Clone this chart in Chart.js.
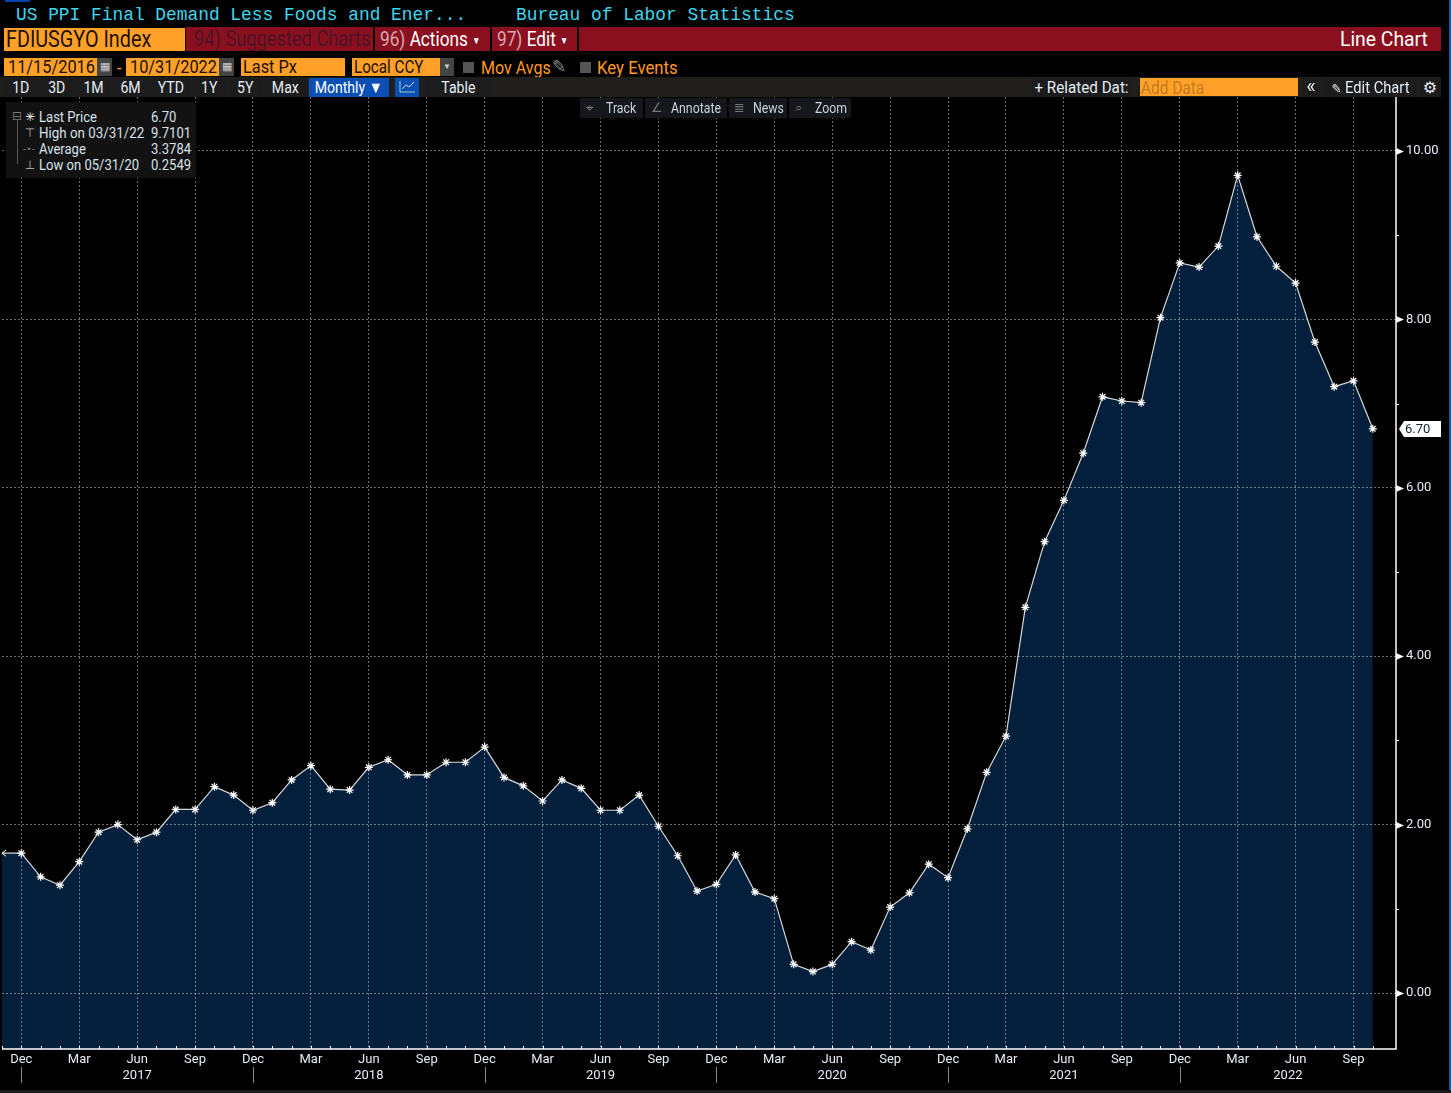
<!DOCTYPE html>
<html>
<head>
<meta charset="utf-8">
<script src="https://cdn.jsdelivr.net/npm/chart.js@4"></script>
<style>
html, body { margin:0; padding:0; background:#000; width:1451px; height:1093px; overflow:hidden; }
body { position:relative; font-family:Roboto,sans-serif; }
#wrap { position:absolute; left:0; top:97px; width:1451px; height:996px; }
.a { position:absolute; white-space:nowrap; }
.n { display:inline-block; transform:scaleX(.86); transform-origin:0 50%; }
.c { display:inline-block; transform:scaleX(.88); transform-origin:50% 50%; }
.title { font:19px "Liberation Mono",monospace; color:#3fd6ee; top:4px; transform:scaleX(.94); transform-origin:0 50%; }
.orange { background:#ffa028; color:#201000; }
.red { background:#8a1020; }
.btn { background:#1c1c1c; color:#e6edf5; top:78px; height:19px; line-height:19px; text-align:center; font-size:16px; }
.tool { background:#15171a; top:98px; height:20px; }
.toolt { color:#c8d4e0; top:98px; height:20px; line-height:20px; font-size:14px; transform:scaleX(.88); transform-origin:0 50%; }
.toolg { color:#777; top:98px; height:20px; line-height:20px; font:13px/20px "DejaVu Sans"; }
.leg { color:#d8e2ec; font-size:15px; line-height:16px; transform:scaleX(.87); transform-origin:0 50%; }
.mk { color:#bbb; font:12px/16px "DejaVu Sans"; width:12px; text-align:center; }
.cal { background:#444; color:#ccc; top:58px; height:18px; line-height:18px; text-align:center; font-size:11px; }
.chk { background:#555; width:11px; height:11px; top:62px; }
.ora { color:#ff9a1e; font-size:18px; top:57px; transform:scaleX(.89); transform-origin:0 50%; }
.fld { top:58px; height:18px; line-height:18px; font-size:19px; }
.bar { top:27px; height:24px; line-height:24px; font-size:21px; color:#fff; transform:scaleX(.82); transform-origin:0 50%; }
.sep { top:27px; width:2px; height:24px; background:#000; }
</style>
</head>
<body>
<div id="wrap"><canvas id="chart" width="1451" height="996"></canvas></div>

<div class="a" style="left:5px;top:0;width:25px;height:2px;background:#0a3ea8"></div>
<div class="a" style="left:1449px;top:0;width:2px;height:1090px;background:#0f5f9a"></div>
<div class="a" style="left:0;top:1090px;width:1451px;height:3px;background:#1c1c1c"></div>

<div class="a title" style="left:16px">US PPI Final Demand Less Foods and Ener...</div>
<div class="a title" style="left:516px">Bureau of Labor Statistics</div>

<div class="a red" style="left:186px;top:27px;width:1255px;height:24px"></div>
<div class="a orange" style="left:4px;top:28px;width:181px;height:23px;line-height:24px;font-size:23px"><span class="n" style="margin-left:2px">FDIUSGYO Index</span></div>
<div class="a bar" style="left:194px;font-size:22px;color:#4e1426;transform:scaleX(.83)">94) Suggested Charts</div>
<div class="a sep" style="left:373px"></div>
<div class="a bar" style="left:380px"><span style="color:#d8a8b0">96)</span> Actions <span style="font-size:10px;vertical-align:2px">▼</span></div>
<div class="a sep" style="left:490px"></div>
<div class="a bar" style="left:497px"><span style="color:#d8a8b0">97)</span> Edit <span style="font-size:10px;vertical-align:2px">▼</span></div>
<div class="a sep" style="left:577px"></div>
<div class="a bar" style="left:1340px;transform:scaleX(.92)">Line Chart</div>

<div class="a orange fld" style="left:4px;width:93px"><span class="n" style="margin-left:4px">11/15/2016</span></div>
<div class="a cal" style="left:97px;width:15px">▦</div>
<div class="a ora" style="left:117px">-</div>
<div class="a orange fld" style="left:126px;width:93px"><span class="n" style="margin-left:4px">10/31/2022</span></div>
<div class="a cal" style="left:219px;width:15px">▦</div>
<div class="a orange fld" style="left:241px;width:104px"><span class="n" style="margin-left:2px">Last Px</span></div>
<div class="a orange fld" style="left:352px;width:88px"><span class="n" style="margin-left:2px;transform:scaleX(.8)">Local CCY</span></div>
<div class="a cal" style="left:440px;width:14px;font-size:8px">▼</div>
<div class="a chk" style="left:463px"></div>
<div class="a ora" style="left:481px">Mov Avgs</div>
<div class="a" style="left:552px;top:56px;color:#888;font:17px 'DejaVu Sans'">✎</div>
<div class="a chk" style="left:580px"></div>
<div class="a ora" style="left:597px;transform:scaleX(.93)">Key Events</div>

<div class="a" style="left:0;top:77px;width:1441px;height:20px;background:#201f1c"></div>
<div class="a btn" style="left:3px;width:35px"><span class="c">1D</span></div>
<div class="a btn" style="left:39px;width:35px"><span class="c">3D</span></div>
<div class="a btn" style="left:75px;width:36px"><span class="c">1M</span></div>
<div class="a btn" style="left:112px;width:37px"><span class="c">6M</span></div>
<div class="a btn" style="left:150px;width:41px"><span class="c">YTD</span></div>
<div class="a btn" style="left:192px;width:35px"><span class="c">1Y</span></div>
<div class="a btn" style="left:228px;width:35px"><span class="c">5Y</span></div>
<div class="a btn" style="left:264px;width:43px"><span class="c">Max</span></div>
<div class="a btn" style="left:309px;width:80px;background:#0a4fb4;color:#fff"><span class="c">Monthly ▼</span></div>
<div class="a btn" style="left:395px;width:24px;background:#0a4fb4"><svg width="18" height="14" style="margin-top:2px"><polyline points="2,1 2,12 17,12" fill="none" stroke="#9cc"/><polyline points="4,9 8,5 11,7 16,2" fill="none" stroke="#cde"/></svg></div>
<div class="a btn" style="left:425px;width:66px"><span class="c">Table</span></div>
<div class="a btn" style="left:1032px;width:100px"><span class="c" style="transform:scaleX(.95)">+ Related Dat:</span></div>
<div class="a" style="left:1140px;top:78px;width:158px;height:18px;line-height:19px;background:#ffa028;color:#c07a20;font-size:18px"><span class="n" style="margin-left:1px">Add Data</span></div>
<div class="a btn" style="left:1302px;width:18px;font-size:20px;line-height:17px">«</div>
<div class="a btn" style="left:1323px;width:94px"><span class="c" style="transform:scaleX(.92)"><span style="font:13px 'DejaVu Sans'">✎</span> Edit Chart</span></div>
<div class="a btn" style="left:1419px;width:22px;font-family:'DejaVu Sans'">⚙</div>

<div class="a tool" style="left:580px;width:63px"></div>
<div class="a tool" style="left:645px;width:82px"></div>
<div class="a tool" style="left:729px;width:58px"></div>
<div class="a tool" style="left:789px;width:62px"></div>
<div class="a toolg" style="left:586px">⌖</div>
<div class="a toolg" style="left:651px">∠</div>
<div class="a toolg" style="left:734px">≣</div>
<div class="a toolg" style="left:795px">⌕</div>
<div class="a toolt" style="left:606px">Track</div>
<div class="a toolt" style="left:671px">Annotate</div>
<div class="a toolt" style="left:753px">News</div>
<div class="a toolt" style="left:815px">Zoom</div>

<div class="a" style="left:6px;top:102px;width:190px;height:76px;background:#121212"></div>
<div class="a" style="left:17px;top:120px;width:1px;height:44px;background:#555"></div>
<div class="a mk" style="left:11px;top:108px;color:#777">⊟</div>
<div class="a mk" style="left:24px;top:109px;color:#fff">✳</div>
<div class="a mk" style="left:24px;top:125px">⊤</div>
<div class="a mk" style="left:23px;top:141px;color:#777;font-size:9px">-•-</div>
<div class="a mk" style="left:24px;top:157px">⊥</div>
<div class="a leg" style="left:39px;top:109px">Last Price</div>
<div class="a leg" style="left:39px;top:125px;transform:scaleX(.89)">High on 03/31/22</div>
<div class="a leg" style="left:39px;top:141px">Average</div>
<div class="a leg" style="left:39px;top:157px">Low on 05/31/20</div>
<div class="a leg" style="left:151px;top:109px">6.70</div>
<div class="a leg" style="left:151px;top:125px">9.7101</div>
<div class="a leg" style="left:151px;top:141px">3.3784</div>
<div class="a leg" style="left:151px;top:157px">0.2549</div>

<script>
// monthly readings, Nov 2016 to Oct 2022
const months = [
  'Nov','Dec',
  'Jan','Feb','Mar','Apr','May','Jun','Jul','Aug','Sep','Oct','Nov','Dec',
  'Jan','Feb','Mar','Apr','May','Jun','Jul','Aug','Sep','Oct','Nov','Dec',
  'Jan','Feb','Mar','Apr','May','Jun','Jul','Aug','Sep','Oct','Nov','Dec',
  'Jan','Feb','Mar','Apr','May','Jun','Jul','Aug','Sep','Oct','Nov','Dec',
  'Jan','Feb','Mar','Apr','May','Jun','Jul','Aug','Sep','Oct','Nov','Dec',
  'Jan','Feb','Mar','Apr','May','Jun','Jul','Aug','Sep','Oct'
];
const values = [
  1.66,1.66,
  1.38,1.28,1.56,1.91,2.00,1.82,1.91,2.18,2.18,2.45,2.35,2.17,
  2.26,2.53,2.70,2.42,2.41,2.68,2.77,2.59,2.59,2.74,2.74,2.92,
  2.56,2.46,2.28,2.53,2.43,2.17,2.17,2.35,1.98,1.63,1.21,1.29,
  1.64,1.20,1.12,0.34,0.2549,0.34,0.61,0.51,1.02,1.19,1.53,1.37,
  1.95,2.62,3.05,4.58,5.36,5.85,6.41,7.08,7.03,7.01,8.02,8.67,
  8.62,8.87,9.7101,8.98,8.63,8.43,7.73,7.20,7.27,6.70
];
const years = ['2017','2018','2019','2020','2021','2022'];
const yTicks = [0,1,2,3,4,5,6,7,8,9,10];

const textColor = '#e6edf5';
const gridColor = 'rgba(255,255,255,0.42)';
const xMax = 72.2;

// axis furniture the scales do not draw: axis lines, arrows, inner ticks, year row, last price tag
const axisMarks = {
  id: 'axisMarks',
  afterDraw(chart) {
    const { ctx, chartArea: area, scales: { x, y } } = chart;
    ctx.save();
    ctx.strokeStyle = '#fff';
    ctx.fillStyle = '#fff';

    ctx.lineWidth = 1.5;
    ctx.beginPath();
    ctx.moveTo(area.left, area.bottom);
    ctx.lineTo(area.right, area.bottom);
    ctx.lineTo(area.right, area.top);
    ctx.stroke();
    ctx.lineWidth = 1;

    months.forEach((m, i) => {
      const px = Math.round(x.getPixelForValue(i)) + 0.5;
      ctx.beginPath();
      ctx.moveTo(px, area.bottom);
      ctx.lineTo(px, area.bottom - 3);
      ctx.stroke();
    });

    yTicks.forEach(t => {
      const py = Math.round(y.getPixelForValue(t)) + 0.5;
      if (t % 2 === 0) {
        ctx.beginPath();
        ctx.moveTo(area.right, py - 3.5);
        ctx.lineTo(area.right + 8, py);
        ctx.lineTo(area.right, py + 3.5);
        ctx.fill();
      } else {
        ctx.beginPath();
        ctx.moveTo(area.right, py);
        ctx.lineTo(area.right + 3, py);
        ctx.stroke();
      }
    });

    // year row, each year centred between its December separators
    ctx.font = '13px Roboto, sans-serif';
    ctx.textAlign = 'center';
    ctx.textBaseline = 'middle';
    years.forEach((yr, i) => {
      const from = 1 + i * 12;
      const to = Math.min(from + 12, xMax);
      const px = Math.round(x.getPixelForValue(from)) + 0.5;
      ctx.strokeStyle = '#888';
      ctx.beginPath();
      ctx.moveTo(px, area.bottom + 18);
      ctx.lineTo(px, area.bottom + 34);
      ctx.stroke();
      ctx.fillStyle = textColor;
      ctx.fillText(yr, x.getPixelForValue((from + to) / 2), area.bottom + 27);
    });

    // open arrow on the first point, the series runs off the left edge
    const y0 = y.getPixelForValue(values[0]);
    const x0 = x.getPixelForValue(0);
    ctx.strokeStyle = '#fff';
    ctx.beginPath();
    ctx.moveTo(x0 + 4, y0 - 3);
    ctx.lineTo(x0, y0);
    ctx.lineTo(x0 + 4, y0 + 3);
    ctx.stroke();

    // last price tag
    const last = values[values.length - 1];
    const ly = Math.round(y.getPixelForValue(last));
    ctx.fillStyle = '#fff';
    ctx.beginPath();
    ctx.moveTo(area.right + 3, ly);
    ctx.lineTo(area.right + 8, ly - 8);
    ctx.lineTo(area.right + 45, ly - 8);
    ctx.lineTo(area.right + 45, ly + 8);
    ctx.lineTo(area.right + 8, ly + 8);
    ctx.closePath();
    ctx.fill();
    ctx.fillStyle = '#10243c';
    ctx.textAlign = 'left';
    ctx.fillText(last.toFixed(2), area.right + 9, ly + 1);
    ctx.restore();
  }
};

new Chart(document.getElementById('chart'), {
  type: 'line',
  data: {
    datasets: [{
      data: values.map((v, i) => ({ x: i, y: v })),
      borderColor: '#d8d8d8',
      borderWidth: 1.2,
      backgroundColor: '#031f3c',
      fill: 'start',
      tension: 0,
      clip: false,
      pointStyle: 'star',
      pointRadius: ctx => ctx.dataIndex === 0 ? 0 : 4,
      pointBorderColor: '#fff',
      pointBorderWidth: 1.2
    }]
  },
  options: {
    responsive: false,
    animation: false,
    devicePixelRatio: 1,
    layout: { autoPadding: false, padding: { left: 2, right: 0, top: 0, bottom: 0 } },
    plugins: { legend: { display: false }, tooltip: { enabled: false } },
    scales: {
      x: {
        type: 'linear',
        min: 0,
        max: xMax,
        afterBuildTicks: s => { s.ticks = months.map((m, i) => ({ value: i })); },
        afterFit: s => { s.height = 44; s.paddingLeft = 0; s.paddingRight = 0; },
        border: { display: false, dash: [2, 2] },
        grid: {
          z: 1,
          drawTicks: false,
          lineWidth: 1,
          color: ctx => (ctx.tick && ctx.tick.value % 3 === 1) ? gridColor : 'transparent'
        },
        ticks: {
          autoSkip: false,
          maxRotation: 0,
          padding: 3,
          color: textColor,
          font: { family: 'Roboto, sans-serif', size: 13 },
          callback: v => v % 3 === 1 ? months[v] : ''
        }
      },
      y: {
        position: 'right',
        min: -0.665,
        max: 10.64,
        afterBuildTicks: s => { s.ticks = yTicks.map(t => ({ value: t })); },
        afterFit: s => { s.width = 55; s.paddingTop = 0; s.paddingBottom = 0; },
        border: { display: false, dash: [2, 2] },
        grid: {
          z: 1,
          drawTicks: false,
          lineWidth: 1,
          color: ctx => (ctx.tick && ctx.tick.value % 2 === 0) ? gridColor : 'transparent'
        },
        ticks: {
          padding: 10,
          color: textColor,
          font: { family: 'Roboto, sans-serif', size: 13 },
          callback: v => v % 2 === 0 ? v.toFixed(2) : ''
        }
      }
    }
  },
  plugins: [axisMarks]
});
</script>
</body>
</html>
